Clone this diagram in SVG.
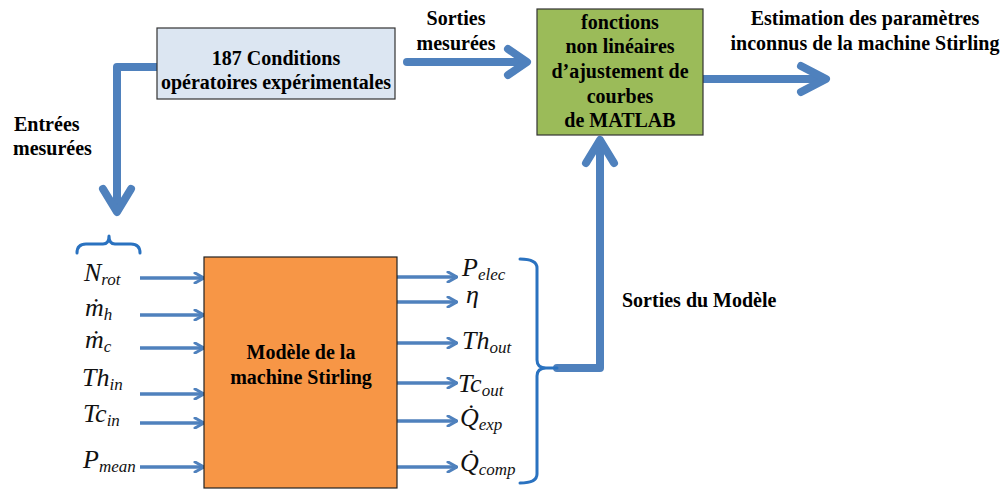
<svg xmlns="http://www.w3.org/2000/svg" width="1008" height="490" viewBox="0 0 1008 490">
<defs>
<style>
.lbl{font-family:'Liberation Serif','DejaVu Serif',serif;font-weight:bold;font-size:20px;fill:#000}
.c{text-anchor:middle}
.math{font-family:'Liberation Serif','DejaVu Serif',serif;font-style:italic;font-size:26px;fill:#111}
.sub{font-size:17px}
.thick{fill:none;stroke:#4f81bd;stroke-width:8;stroke-linecap:round;stroke-linejoin:round}
.thin{fill:none;stroke:#4f81bd;stroke-width:3.5;marker-end:url(#ah)}
.brace{fill:none;stroke:#2a72c0;stroke-width:3;stroke-linecap:round;stroke-linejoin:round}
</style>
<marker id="ah" viewBox="0 0 12 12" refX="11" refY="6" markerWidth="12" markerHeight="12" markerUnits="userSpaceOnUse" orient="auto">
<path d="M2,1 L11,6 L2,11" fill="none" stroke="#4f81bd" stroke-width="3" stroke-linecap="round" stroke-linejoin="round"/>
</marker>
</defs>
<rect width="1008" height="490" fill="#fff"/>

<g id="connectors">
<path class="thick" d="M157,67 H117 V210"/>
<path class="thick" d="M103,189 L117,212 L131,189"/>
<path class="thick" d="M407,62 H524"/>
<path class="thick" d="M508,49 L527,62 L508,75"/>
<path class="thick" d="M703,79 H824"/>
<path class="thick" d="M801,66 L826,79 L801,92"/>
<path class="thick" d="M557,368 H600 V142"/>
<path class="thick" d="M586,163 L600,140 L614,163"/>
<line class="thin" x1="140" y1="278" x2="204" y2="278"/>
<line class="thin" x1="140" y1="315" x2="204" y2="315"/>
<line class="thin" x1="140" y1="348" x2="204" y2="348"/>
<line class="thin" x1="140" y1="394" x2="204" y2="394"/>
<line class="thin" x1="140" y1="423" x2="204" y2="423"/>
<line class="thin" x1="140" y1="467" x2="204" y2="467"/>
<line class="thin" x1="397" y1="277" x2="457" y2="277"/>
<line class="thin" x1="397" y1="302" x2="457" y2="302"/>
<line class="thin" x1="397" y1="343" x2="457" y2="343"/>
<line class="thin" x1="397" y1="383" x2="457" y2="383"/>
<line class="thin" x1="397" y1="421" x2="457" y2="421"/>
<line class="thin" x1="397" y1="467" x2="457" y2="467"/>
<path class="brace" d="M77,253 Q77,244 86,244 H103 Q109,244 109,236 Q109,244 115,244 H131 Q140,244 140,253"/>
<path class="brace" d="M520,259 Q537,259 537,268 V360 Q537,368 546,368 H557 M546,368 Q537,368 537,376 V474 Q537,483 520,483"/>
<text class="lbl" x="14" y="131">Entrées</text>
<text class="lbl" x="13" y="155">mesurées</text>
<text class="lbl c" x="456" y="25">Sorties</text>
<text class="lbl c" x="456" y="50">mesurées</text>
<text class="lbl c" x="865" y="25">Estimation des paramètres</text>
<text class="lbl c" x="865" y="50">inconnus de la machine Stirling</text>
<text class="lbl" x="622" y="307">Sorties du Modèle</text>
</g>

<g id="conditions">
<rect x="157" y="28" width="238" height="71" fill="#dce6f2" stroke="#333" stroke-width="1.2"/>
<text class="lbl c" x="276" y="65">187 Conditions</text>
<text class="lbl c" x="276" y="89">opératoires expérimentales</text>
</g>

<g id="matlab">
<rect x="537" y="9" width="166" height="126" fill="#9bbb59" stroke="#333" stroke-width="1.2"/>
<text class="lbl c" x="620" y="29">fonctions</text>
<text class="lbl c" x="620" y="53">non linéaires</text>
<text class="lbl c" x="620" y="78">d’ajustement de</text>
<text class="lbl c" x="620" y="103">courbes</text>
<text class="lbl c" x="620" y="127">de MATLAB</text>
</g>

<g id="modele">
<rect x="204" y="257" width="193" height="231" fill="#f79646" stroke="#222" stroke-width="1.2"/>
<text class="lbl c" x="301" y="359">Modèle de la</text>
<text class="lbl c" x="301" y="384">machine Stirling</text>
</g>

<g id="inputs">
<text class="math" x="84" y="281">N<tspan class="sub" dy="4">rot</tspan></text>
<text class="math" x="85" y="316">ṁ<tspan class="sub" dy="4">h</tspan></text>
<text class="math" x="85" y="348">ṁ<tspan class="sub" dy="4">c</tspan></text>
<text class="math" x="82" y="386">Th<tspan class="sub" dy="4">in</tspan></text>
<text class="math" x="83" y="422">Tc<tspan class="sub" dy="4">in</tspan></text>
<text class="math" x="83" y="468">P<tspan class="sub" dy="4">mean</tspan></text>
</g>

<g id="outputs">
<text class="math" x="462" y="276">P<tspan class="sub" dy="4">elec</tspan></text>
<text class="math" x="466" y="303">η</text>
<text class="math" x="462" y="349">Th<tspan class="sub" dy="4">out</tspan></text>
<text class="math" x="458" y="392">Tc<tspan class="sub" dy="4">out</tspan></text>
<text class="math" x="460" y="426">Q̇<tspan class="sub" dy="4">exp</tspan></text>
<text class="math" x="460" y="471">Q̇<tspan class="sub" dy="4">comp</tspan></text>
</g>
</svg>
